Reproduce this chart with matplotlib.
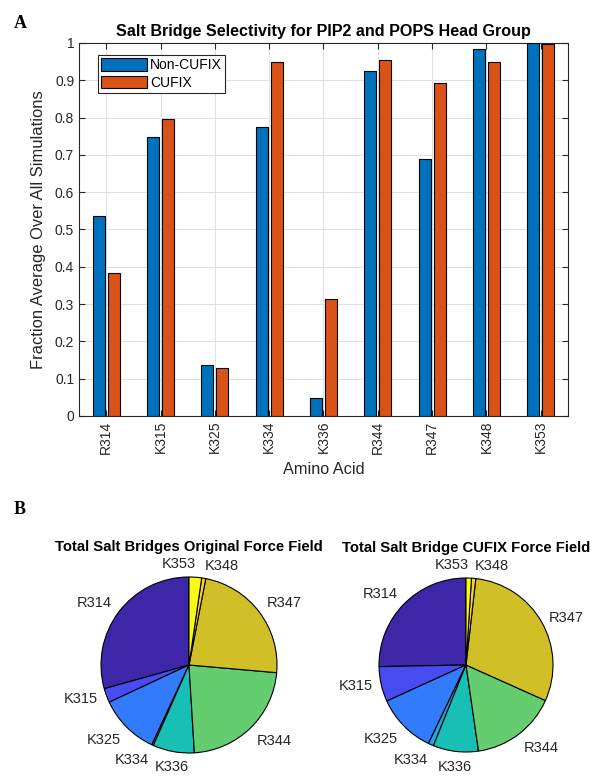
import numpy as np
import matplotlib
matplotlib.use("Agg")
import matplotlib.pyplot as plt

plt.rcParams['font.family'] = ['Liberation Sans', 'DejaVu Sans']

# bar chart data
residues = ["R314", "K315", "K325", "K334", "K336", "R344", "R347", "K348", "K353"]
non_cufix = [0.536, 0.749, 0.138, 0.776, 0.048, 0.924, 0.688, 0.985, 1.0]
cufix = [0.384, 0.797, 0.129, 0.948, 0.315, 0.955, 0.893, 0.948, 0.997]

# pie data (percent of total salt bridges)
pie_original = [29.3, 2.6, 11.1, 0.3, 7.6, 22.6, 23.3, 0.75, 2.3]
pie_cufix = [25.3, 6.5, 11.1, 1.0, 8.4, 16.0, 29.9, 0.8, 1.0]

blue = "#0072BD"
orange = "#D95319"
# parula sampled at 9 levels
parula9 = ["#3e26a8", "#484cf0", "#327bfc", "#20a5e3", "#18bfb5",
           "#64cd6f", "#d1bf27", "#fccf30", "#f9fb14"]
axcol = "#262626"

fig = plt.figure(figsize=(5.92, 7.78), dpi=100)

# ---- panel A ----
ax = fig.add_axes([79/592, 1-416/778, 489/592, 373/778])
x = np.arange(1, len(residues)+1)
w = 0.22
ax.bar(x-0.14, non_cufix, w, color=blue, edgecolor="black", linewidth=0.8, label="Non-CUFIX", zorder=3)
ax.bar(x+0.14, cufix, w, color=orange, edgecolor="black", linewidth=0.8, label="CUFIX", zorder=3)
ax.set_xlim(0.5, 9.5)
ax.set_ylim(0, 1)
ax.set_xticks(x)
ax.set_xticklabels(residues, rotation=90)
ax.set_yticks(np.arange(0, 1.01, 0.1))
ax.set_yticklabels(["0"] + ["%.1f" % v for v in np.arange(0.1, 0.95, 0.1)] + ["1"])
ax.grid(True, color="#e0e0e0", linewidth=0.7, zorder=0)
ax.tick_params(direction="in", top=True, right=True, labelsize=10, colors=axcol, length=4)
for s in ax.spines.values():
    s.set_color(axcol)
    s.set_linewidth(0.8)
ax.set_title("Salt Bridge Selectivity for PIP2 and POPS Head Group", fontsize=11.6,
             fontweight="bold", pad=5)
ax.set_xlabel("Amino Acid", fontsize=11.7, color=axcol, labelpad=6)
ax.set_ylabel("Fraction Average Over All Simulations", fontsize=11.9, color=axcol, labelpad=6)
leg = ax.legend(loc="upper left", bbox_to_anchor=(19/489, 1-12/373), borderaxespad=0,
                fontsize=10, fancybox=False, handlelength=3.3, handleheight=1.0,
                handletextpad=0.2, borderpad=0.25, labelspacing=0.25, framealpha=1)
leg.get_frame().set_edgecolor(axcol)
leg.get_frame().set_linewidth(0.8)

fig.text(20/592, 1-24/778, "A", fontsize=13, fontweight="bold", family="Liberation Serif",
         va="center", ha="center")
fig.text(20/592, 1-510/778, "B", fontsize=13, fontweight="bold", family="Liberation Serif",
         va="center", ha="center")


def draw_pie(ax, vals, title):
    wedges, _ = ax.pie(vals, colors=parula9, startangle=90, counterclock=True,
                       wedgeprops=dict(edgecolor="black", linewidth=0.8))
    ax.set_aspect("equal")
    ax.set_xlim(-1, 1)
    ax.set_ylim(-1, 1)
    n = len(wedges)
    r = 1.1
    for i, (wd, lab) in enumerate(zip(wedges, residues)):
        ang = np.deg2rad((wd.theta1 + wd.theta2) / 2)
        c, s = np.cos(ang), np.sin(ang)
        ha = "left" if c > 0.3 else ("right" if c < -0.3 else "center")
        va = "baseline" if s > 0.5 else ("top" if s < -0.5 else "center")
        if i == n - 1:
            ha = "right"
        elif i == n - 2:
            ha = "left"
        ax.text(r*c, r*s, lab, ha=ha, va=va, fontsize=10.5, color=axcol)
    ax.set_title(title, fontsize=10.7, fontweight="bold", pad=19)


ax1 = fig.add_axes([101/592, 1-753/778, 176/592, 176/778])
draw_pie(ax1, pie_original, "Total Salt Bridges Original Force Field")
ax2 = fig.add_axes([379/592, 1-752/778, 174/592, 174/778])
draw_pie(ax2, pie_cufix, "Total Salt Bridge CUFIX Force Field")

fig.savefig("out.png", dpi=100)
